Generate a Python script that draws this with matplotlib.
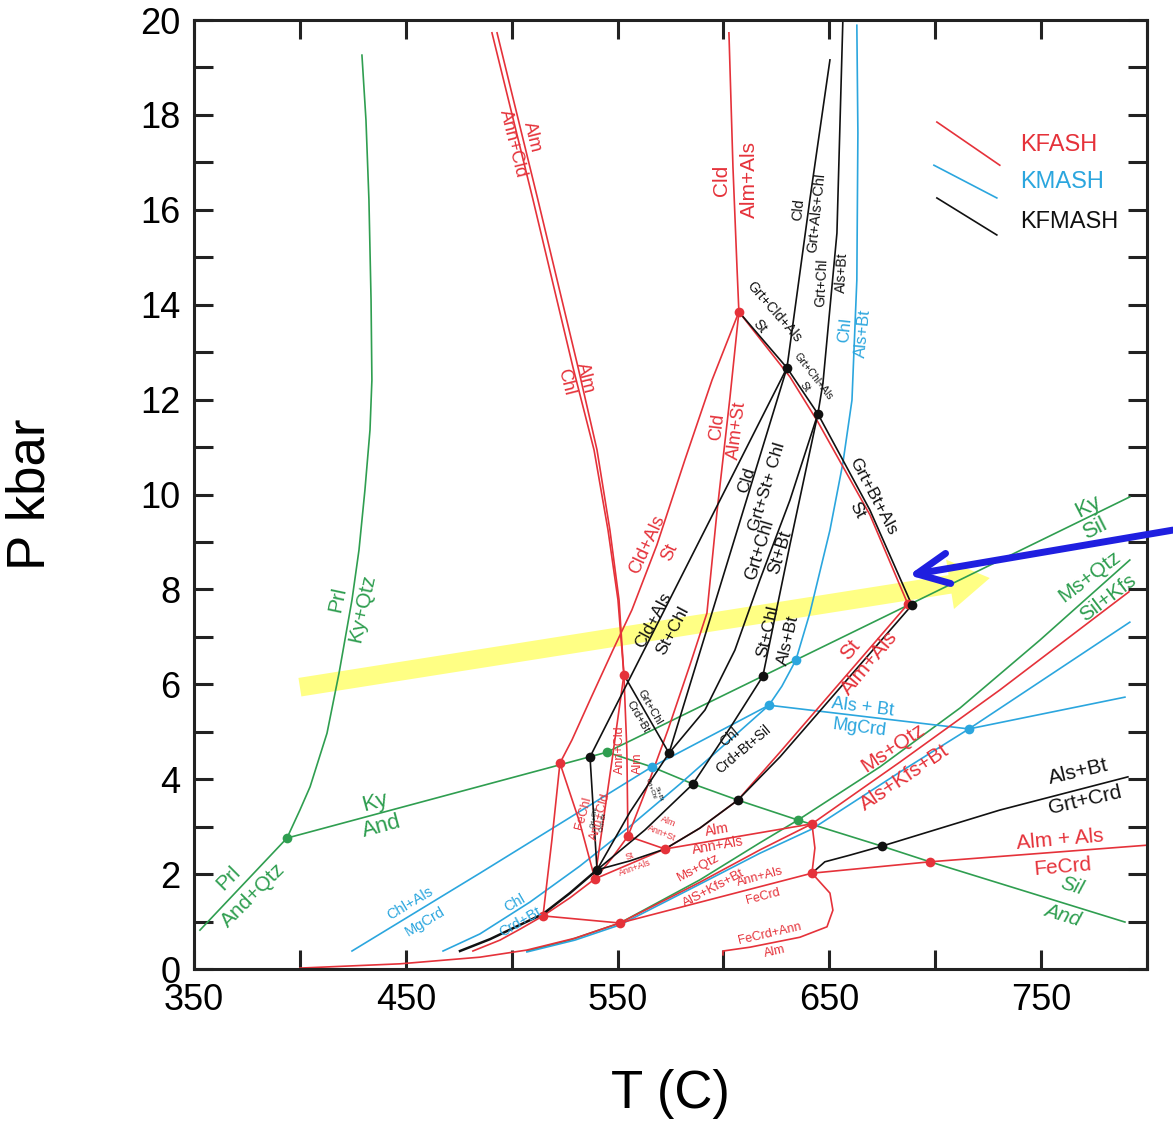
import matplotlib
matplotlib.use("Agg")
import matplotlib.pyplot as plt

plt.rcParams['font.family'] = ['Liberation Sans', 'DejaVu Sans']

RED = '#e5323a'
GREEN = '#2f9e50'
CYAN = '#2ba6de'
BLACK = '#111111'

# ---- reaction curves, points as (T in C, P in kbar) ----
# green: Al2SiO5 / pyrophyllite / muscovite
prl_kyqtz = [(393.9, 2.76), (400.0, 3.35), (404.8, 3.84), (412.8, 4.97), (418.5, 6.24),
             (424.6, 7.78), (427.9, 8.83), (430.7, 10.09), (433.1, 11.36), (434.0, 12.41),
             (433.6, 14.10), (432.6, 16.21), (431.2, 17.89), (429.3, 19.26)]
prl_andqtz = [(393.9, 2.76), (352.8, 0.82)]
ky_and = [(393.9, 2.76), (545.0, 4.57)]
ky_sil = [(545.0, 4.57), (791.9, 9.95)]
sil_and = [(545.0, 4.57), (566.2, 4.26), (585.6, 3.90), (606.8, 3.56), (635.2, 3.14),
           (674.8, 2.59), (697.5, 2.26), (789.6, 0.99)]
ms_qtz_g = [(507.2, 0.38), (527.5, 0.61), (551.1, 0.97), (588.9, 1.88), (617.2, 2.66),
            (635.2, 3.14), (673.9, 4.26), (711.7, 5.50), (749.4, 6.93), (791.9, 8.62)]

# red: KFASH
alm_anncld = [(490.7, 19.73), (510.1, 16.21), (528.9, 12.69), (538.9, 10.94),
              (545.5, 9.25), (550.2, 7.78), (553.0, 6.20)]
alm_chl = [(493.1, 19.73), (512.4, 16.21), (531.3, 12.69), (540.3, 10.94),
           (546.4, 9.25), (550.7, 7.78), (553.0, 6.20)]
cld_almals = [(602.6, 19.73), (604.5, 16.90), (606.4, 14.79), (607.3, 13.85)]
cld_almst = [(607.3, 13.85), (603.1, 12.05), (596.9, 9.61), (592.2, 7.50), (584.2, 6.41),
             (573.8, 5.04), (563.4, 3.77), (554.9, 2.80)]
cldals_st = [(607.3, 13.85), (594.6, 12.41), (581.8, 10.73), (568.6, 8.94), (556.8, 7.57),
             (547.8, 6.72), (537.0, 5.67), (528.5, 4.83), (522.8, 4.34)]
r3_r7 = [(522.8, 4.34), (519.0, 2.72), (514.8, 1.12)]
r3_r6 = [(522.8, 4.34), (532.2, 3.08), (539.3, 1.90)]
r2_r6 = [(553.0, 6.20), (547.4, 4.40), (539.3, 1.90)]
r2_r4 = [(553.0, 6.20), (554.4, 4.62), (554.9, 2.80)]
alm_annst = [(554.9, 2.80), (572.4, 2.53)]
st_annals = [(539.3, 1.90), (572.4, 2.53)]
alm_annals = [(572.4, 2.53), (641.8, 3.06)]
r10_r11 = [(641.8, 3.06), (643.2, 2.55), (641.8, 2.02)]
annals_fecrd = [(551.1, 0.97), (641.8, 2.02)]
r7_r8 = [(514.8, 1.12), (551.1, 0.97)]
almals_fecrd = [(641.8, 2.02), (697.5, 2.26), (800.0, 2.61)]
fecrdann_alm = [(641.8, 2.02), (650.3, 1.60), (651.7, 1.24), (648.9, 0.89), (636.1, 0.67),
                (612.5, 0.46), (599.8, 0.38), (599.8, 0.30)]
st_almals = [(687.1, 7.69), (626.7, 4.57), (606.8, 3.56), (588.9, 2.97), (572.4, 2.53)]
r1_r9 = [(607.3, 13.85), (631.4, 12.48), (644.6, 11.53), (669.2, 9.57), (687.1, 7.69)]
ms_qtz_r = [(400.0, 0.02), (447.3, 0.11), (485.0, 0.25), (507.2, 0.40), (529.9, 0.65),
            (551.1, 0.97), (588.9, 1.83), (617.2, 2.51), (641.8, 3.06), (683.3, 4.36),
            (730.5, 5.88), (791.5, 7.95)]
chl_r = [(481.7, 0.38), (494.5, 0.61), (503.9, 0.84), (514.8, 1.12), (527.5, 1.50),
         (539.3, 1.90), (547.4, 2.34), (554.9, 2.80)]

# black: KFMASH
chl_k = [(475.6, 0.38), (489.8, 0.63), (503.9, 0.93), (514.8, 1.16), (527.5, 1.60), (540.3, 2.09)]
k8_k3 = [(540.3, 2.09), (537.0, 4.47)]
k3_k1 = [(537.0, 4.47), (630.0, 12.67)]
k4_k1 = [(574.3, 4.55), (630.0, 12.67)]
r2_k4 = [(553.0, 6.20), (574.3, 4.55)]
k8_k4 = [(540.3, 2.09), (555.9, 3.31), (574.3, 4.55)]
k8_k7 = [(540.3, 2.09), (562.9, 2.93), (585.6, 3.90), (603.1, 5.08), (618.6, 6.17)]
k2_k4 = [(644.6, 11.70), (631.4, 9.88), (617.2, 8.20), (605.4, 6.72), (591.3, 5.46), (574.3, 4.55)]
k2_k7 = [(644.6, 11.70), (631.4, 8.94), (618.6, 6.17)]
r1_k9 = [(607.3, 13.85), (630.0, 12.67), (644.6, 11.70), (669.2, 9.67), (689.0, 7.67)]
k1_top = [(630.0, 12.67), (640.8, 16.21), (650.3, 19.16)]
k2_top = [(644.6, 11.70), (647.0, 12.35), (653.6, 15.51), (656.4, 20.0)]
k9_k8 = [(689.0, 7.67), (626.7, 4.47), (606.8, 3.56), (588.9, 2.97), (572.4, 2.53),
         (555.9, 2.28), (540.3, 2.09)]
alsbt_grtcrd = [(641.8, 2.02), (647.9, 2.26), (659.7, 2.40), (674.8, 2.59), (730.5, 3.35), (791.0, 4.05)]

# cyan: KMASH
chlals_mgcrd = [(424.6, 0.38), (485.0, 2.02), (566.2, 4.26), (621.5, 5.56)]
chl_crdbt = [(467.6, 0.38), (485.0, 0.74), (508.6, 1.41), (532.2, 2.17), (555.9, 3.01),
             (579.5, 3.90), (603.1, 4.83), (621.5, 5.56)]
chl_alsbt = [(621.5, 5.56), (627.6, 5.96), (634.2, 6.51), (640.8, 7.50), (650.3, 9.25),
             (656.4, 10.66), (660.7, 11.99), (663.0, 14.52), (663.5, 17.62), (663.0, 19.89)]
alsbt_mgcrd = [(621.5, 5.56), (715.9, 5.06), (789.6, 5.73)]
ms_qtz_c = [(507.2, 0.36), (529.9, 0.61), (551.1, 0.93), (588.9, 1.79), (617.2, 2.44),
            (641.8, 2.95), (683.3, 4.15), (715.9, 5.06), (791.9, 7.31)]

# invariant points
red_pts = [(607.3, 13.85), (553.0, 6.20), (522.8, 4.34), (554.9, 2.80), (572.4, 2.53),
           (539.3, 1.90), (514.8, 1.12), (551.1, 0.97), (687.1, 7.69), (641.8, 3.06),
           (641.8, 2.02), (697.5, 2.26)]
black_pts = [(630.0, 12.67), (644.6, 11.70), (537.0, 4.47), (574.3, 4.55), (585.6, 3.90),
             (606.8, 3.56), (618.6, 6.17), (540.3, 2.09), (689.0, 7.67), (674.8, 2.59)]
cyan_pts = [(566.2, 4.26), (621.5, 5.56), (634.2, 6.51), (715.9, 5.06)]
green_pts = [(393.9, 2.76), (545.0, 4.57), (635.2, 3.14)]

# reaction labels: text, T, P, rotation, size, colour
labels = [
    ("Prl", 418.0, 7.78, 78, 15, GREEN), ("Ky+Qtz", 429.3, 7.61, 78, 15, GREEN),
    ("Prl", 366.0, 1.92, 45, 15, GREEN), ("And+Qtz", 377.9, 1.56, 45, 15, GREEN),
    ("Ky", 435.5, 3.50, 15, 16, GREEN), ("And", 438.8, 3.01, 15, 16, GREEN),
    ("Ky", 772.1, 9.74, 27, 16, GREEN), ("Sil", 775.9, 9.29, 27, 16, GREEN),
    ("Ms+Qtz", 773.0, 8.26, 37, 15, GREEN), ("Sil+Kfs", 781.5, 7.82, 37, 15, GREEN),
    ("Alm", 509.6, 17.53, -76, 13, RED), ("Ann+Cld", 500.6, 17.40, -76, 13, RED),
    ("Alm", 534.6, 12.46, -76, 13, RED), ("Chl", 525.6, 12.37, -76, 13, RED),
    ("Cld", 599.3, 16.63, 90, 15, RED), ("Alm+Als", 612.5, 16.63, 90, 15, RED),
    ("Cld", 596.9, 11.42, 83, 13, RED), ("Alm+St", 606.4, 11.36, 83, 13, RED),
    ("Cld+Als", 563.9, 8.94, 65, 13, RED), ("St", 574.7, 8.79, 65, 13, RED),
    ("St", 659.7, 6.72, 50, 15, RED), ("Alm+Als", 669.2, 6.45, 50, 15, RED),
    ("Ms+Qtz", 680.0, 4.66, 34, 15, RED), ("Als+Kfs+Bt", 685.7, 4.03, 34, 15, RED),
    ("Alm + Als", 758.9, 2.72, 5, 15, RED), ("FeCrd", 760.3, 2.15, 5, 15, RED),
    ("Alm", 596.9, 2.93, 10, 10, RED), ("Ann+Als", 597.4, 2.61, 10, 10, RED),
    ("Ms+Qtz", 588.0, 2.13, 28, 9.5, RED), ("AlS+Kfs+Bt", 595.5, 1.71, 28, 9.5, RED),
    ("Ann+Als", 617.2, 1.94, 15, 9, RED), ("FeCrd", 618.6, 1.52, 15, 9, RED),
    ("FeCrd+Ann", 622.0, 0.74, 13, 9, RED), ("Alm", 624.3, 0.36, 13, 9, RED),
    ("Alm", 573.8, 3.10, -22, 6.5, RED), ("Ann+St", 571.0, 2.87, -22, 6.5, RED),
    ("St", 555.9, 2.38, 20, 6.5, RED), ("Ann+Als", 558.2, 2.13, 20, 6.5, RED),
    ("FeChl", 533.7, 3.29, 75, 9, RED), ("Ann+Cld", 541.7, 3.20, 75, 9, RED),
    ("Ann+Cld", 551.1, 4.62, 90, 9, RED), ("Alm", 559.6, 4.34, 90, 9, RED),
    ("Cld", 635.2, 16.00, 84, 10.5, BLACK), ("Grt+Als+Chl", 644.1, 15.93, 84, 10.5, BLACK),
    ("Grt+Chl", 646.5, 14.46, 87, 10, BLACK), ("Als+Bt", 655.9, 14.67, 87, 10, BLACK),
    ("Grt+Cld+Als", 623.8, 13.85, -49, 10, BLACK), ("St", 617.2, 13.55, -49, 10, BLACK),
    ("Grt+Chl+Als", 642.3, 12.48, -52, 7.5, BLACK), ("St", 638.5, 12.27, -52, 7.5, BLACK),
    ("Grt+Bt+Als", 670.6, 9.95, -62, 12.5, BLACK), ("St", 663.0, 9.67, -62, 12.5, BLACK),
    ("Cld", 611.1, 10.31, 73, 12.5, BLACK), ("Grt+St+ Chl", 620.5, 10.16, 73, 12.5, BLACK),
    ("Grt+Chl", 617.2, 8.83, 73, 13, BLACK), ("St+Bt", 626.7, 8.77, 73, 13, BLACK),
    ("Cld+Als", 566.7, 7.36, 62, 12.5, BLACK), ("St+Chl", 576.2, 7.14, 62, 12.5, BLACK),
    ("St+Chl", 621.0, 7.12, 77, 12.5, BLACK), ("Als+Bt", 630.4, 6.93, 77, 12.5, BLACK),
    ("Grt+Chl", 565.3, 5.52, -60, 8, BLACK), ("Crd+Bt", 559.6, 5.31, -60, 8, BLACK),
    ("Chl", 603.1, 4.89, 40, 10, BLACK), ("Crd+Bt+Sil", 609.2, 4.62, 40, 10, BLACK),
    ("Als+Bt", 767.4, 4.15, 13, 15, BLACK), ("Grt+Crd", 770.7, 3.56, 13, 15, BLACK),
    ("Grt+Chl", 539.0, 3.20, 80, 4.5, BLACK), ("Crd+Bt", 543.0, 3.10, 80, 4.5, BLACK),
    ("Grt+Chl", 565.5, 3.80, -70, 4.5, BLACK), ("St+Bt", 569.5, 3.70, -70, 4.5, BLACK),
    ("Chl", 657.4, 13.47, 84, 12, CYAN), ("Als+Bt", 665.9, 13.40, 84, 12, CYAN),
    ("Als + Bt", 665.9, 5.52, -7, 13, CYAN), ("MgCrd", 664.4, 5.08, -7, 13, CYAN),
    ("Chl+Als", 452.0, 1.39, 31, 10.5, CYAN), ("MgCrd", 459.1, 0.99, 31, 10.5, CYAN),
    ("Chl", 501.6, 1.39, 30, 10.5, CYAN), ("Crd+Bt", 503.9, 0.99, 30, 10.5, CYAN),
]
italic_labels = [("Sil", 764.5, 1.75, -17, 15, GREEN), ("And", 760.3, 1.14, -17, 15, GREEN)]

# legend
legend_names = ["KFASH", "KMASH", "KFMASH"]
legend_colors = [RED, CYAN, BLACK]
legend_T = [(700.8, 730.5), (699.4, 729.1), (700.8, 729.1)]
legend_P = [(17.85, 16.94), (16.94, 16.25), (16.25, 15.47)]
legend_text_P = [17.37, 16.59, 15.74]

# P-T path arrows
path_tail = (400.0, 5.94)
path_tip = (725.8, 8.24)
pointer_tail = (812.2, 9.25)
pointer_tip = (687.5, 8.30)

fig = plt.figure(figsize=(11.73, 11.31), dpi=100)
ax = fig.add_axes([0.1654, 0.1432, 0.8124, 0.8391])


def curve(pts, color, lw=1.2, z=2):
    t, p = zip(*pts)
    ax.plot(t, p, color=color, lw=lw, zorder=z, solid_joinstyle='round')


for c in [prl_kyqtz, prl_andqtz, ky_and, ky_sil, sil_and, ms_qtz_g]:
    curve(c, GREEN)
for c in [chlals_mgcrd, chl_crdbt, chl_alsbt, alsbt_mgcrd, ms_qtz_c]:
    curve(c, CYAN)
for c in [alm_anncld, alm_chl, cld_almals, cld_almst, cldals_st, r3_r7, r3_r6, r2_r6, r2_r4,
          alm_annst, st_annals, alm_annals, r10_r11, annals_fecrd, r7_r8, almals_fecrd,
          fecrdann_alm, st_almals, r1_r9, ms_qtz_r, chl_r]:
    curve(c, RED)
for c in [k8_k3, k3_k1, k4_k1, r2_k4, k8_k4, k8_k7, k2_k4, k2_k7, r1_k9, k1_top, k2_top,
          k9_k8, alsbt_grtcrd]:
    curve(c, BLACK)
curve(chl_k, BLACK, lw=1.8)

for pts, col in [(green_pts, GREEN), (cyan_pts, CYAN), (red_pts, RED), (black_pts, BLACK)]:
    t, p = zip(*pts)
    ax.plot(t, p, 'o', color=col, ms=7, mec='none', zorder=4)

for txt, t, p, rot, size, col in labels:
    ax.text(t, p, txt, rotation=rot, fontsize=size, color=col, ha='center', va='center',
            rotation_mode='anchor', zorder=5)
for txt, t, p, rot, size, col in italic_labels:
    ax.text(t, p, txt, rotation=rot, fontsize=size, color=col, ha='center', va='center',
            rotation_mode='anchor', style='italic', zorder=5)

for name, col, lt, lp, tp in zip(legend_names, legend_colors, legend_T, legend_P, legend_text_P):
    ax.plot(lt, lp, color=col, lw=1.2)
    ax.text(740.0, tp, name, color=col, fontsize=17, ha='left', va='center')

ax.annotate('', xy=path_tip, xytext=path_tail, zorder=1,
            arrowprops=dict(arrowstyle='simple,head_length=2.9,head_width=3.6,tail_width=1.35',
                            mutation_scale=10, fc='#ffff33', ec='none', alpha=0.6,
                            shrinkA=0, shrinkB=0))
ax.annotate('', xy=pointer_tip, xytext=pointer_tail, zorder=6, annotation_clip=False,
            arrowprops=dict(arrowstyle='->,head_length=2.3,head_width=1.1', mutation_scale=10,
                            color='#1f1fe0', lw=5, shrinkA=0, shrinkB=0))

ax.set_xlim(350, 800)
ax.set_ylim(0, 20)
xt = list(range(350, 801, 50))
ax.set_xticks(xt)
ax.set_xticklabels([str(v) if (v - 350) % 100 == 0 else '' for v in xt])
yt = list(range(0, 21))
ax.set_yticks(yt)
ax.set_yticklabels([str(v) if v % 2 == 0 else '' for v in yt])
ax.tick_params(direction='in', top=True, right=True, length=14, width=2.2,
               labelsize=26, pad=10, color='#222222')
for s in ax.spines.values():
    s.set_linewidth(2.2)
    s.set_color('#222222')

ax.set_xlabel('T (C)', fontsize=38)
ax.set_ylabel('P kbar', fontsize=38)
ax.xaxis.set_label_coords(0.5, -0.105)
ax.yaxis.set_label_coords(-0.145, 0.5)

fig.savefig('out.png', dpi=100)
